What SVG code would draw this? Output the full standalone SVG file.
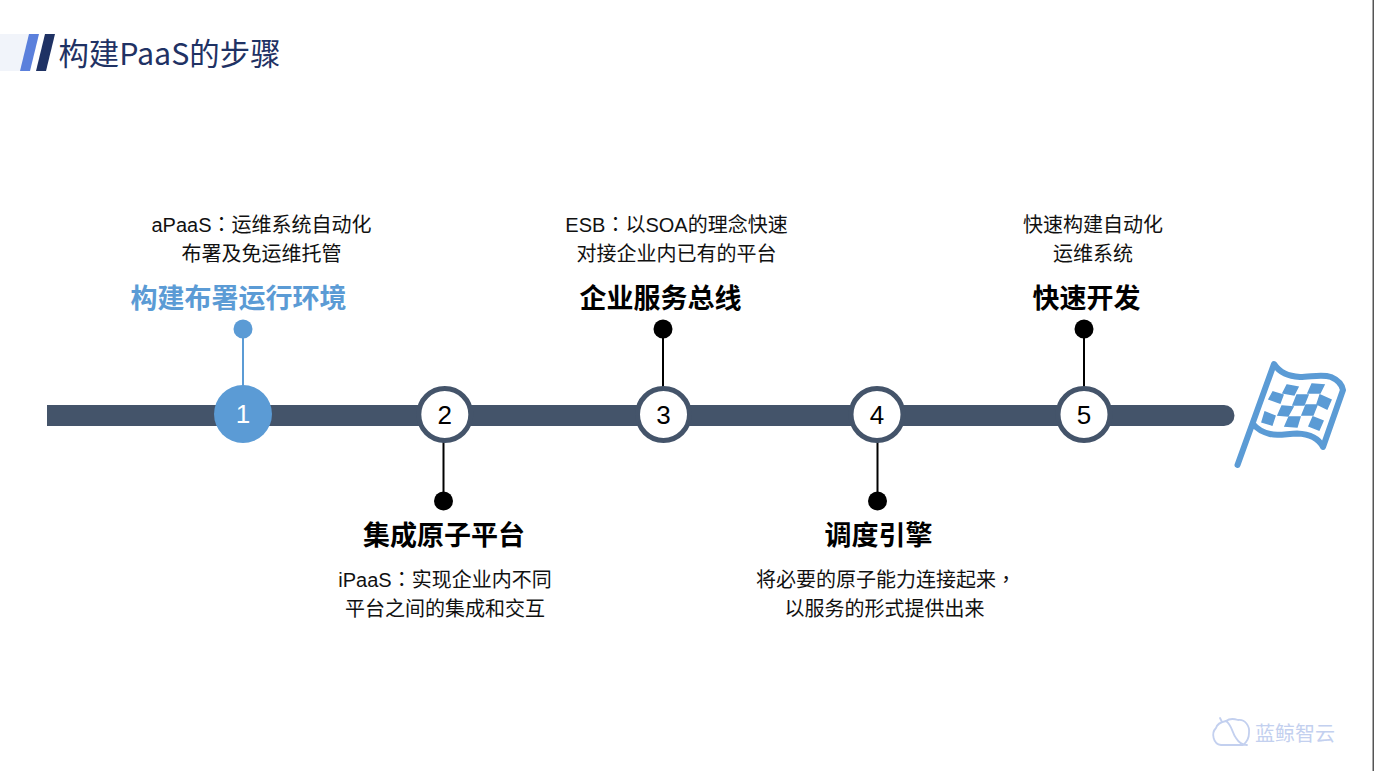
<svg xmlns="http://www.w3.org/2000/svg" width="1374" height="771" viewBox="0 0 1374 771">
<style>
text{font-family:"Liberation Sans","Noto Sans CJK SC",sans-serif;text-anchor:middle}
.d{font-size:20px;fill:#111}
.h{font-size:27px;font-weight:700;fill:#000}
.n{font-size:26px;fill:#000}
.p{font-family:"Noto Sans CJK TC",sans-serif}
.ring{fill:#fff;stroke:#44546a;stroke-width:5}
.st{stroke:#000;stroke-width:2;fill:none}
</style>
<rect width="1374" height="771" fill="#fff"/>
<rect x="1372.500" y="0" width="1.500" height="771" fill="#555"/>
<g id="header">
<rect x="0" y="34" width="29" height="37" fill="#f1f4fa"/>
<polygon points="29,34 39,34 30,71 20,71" fill="#5b80dc"/>
<polygon points="45,34 55,34 46,71 36,71" fill="#1f3264"/>
<text x="169.500" y="65" style="font-size:30.400px;font-family:'Noto Sans CJK SC','Noto Sans',sans-serif;fill:#1f3264">构建PaaS的步骤</text>
</g>
<g id="connectors">
<line x1="243" y1="329" x2="243" y2="390" stroke="#5b9bd5" stroke-width="2"/>
<line class="st" x1="443.500" y1="440" x2="443.500" y2="501"/>
<line class="st" x1="663" y1="329" x2="663" y2="390"/>
<line class="st" x1="877.500" y1="440" x2="877.500" y2="501"/>
<line class="st" x1="1084" y1="329" x2="1084" y2="390"/>
</g>
<g id="timeline">
<path d="M47 405H1224a10.500 10.500 0 0 1 0 21H47Z" fill="#44546a"/>
</g>
<g id="node1">
<text class="d" x="261.500" y="232">aPaaS<tspan class="p">：</tspan>运维系统自动化</text>
<text class="d" x="261.500" y="261">布署及免运维托管</text>
<text class="h" x="238.500" y="308" style="fill:#5b9bd5">构建布署运行环境</text>
<circle cx="243" cy="329" r="9.500" fill="#5b9bd5"/>
<circle cx="243" cy="414" r="29" fill="#5b9bd5"/>
<text class="n" x="243" y="423" style="fill:#fff">1</text>
</g>
<g id="node2">
<circle class="ring" cx="444.800" cy="414.500" r="26"/>
<text class="n" x="444.800" y="424">2</text>
<circle cx="443.500" cy="501" r="9.500"/>
<text class="h" x="444" y="545">集成原子平台</text>
<text class="d" x="445" y="587">iPaaS<tspan class="p">：</tspan>实现企业内不同</text>
<text class="d" x="445" y="616">平台之间的集成和交互</text>
</g>
<g id="node3">
<text class="d" x="676.500" y="232">ESB<tspan class="p">：</tspan>以SOA的理念快速</text>
<text class="d" x="676.500" y="261">对接企业内已有的平台</text>
<text class="h" x="660.500" y="308">企业服务总线</text>
<circle cx="663" cy="329" r="9.500"/>
<circle class="ring" cx="663.500" cy="414.500" r="26"/>
<text class="n" x="663.500" y="424">3</text>
</g>
<g id="node4">
<circle class="ring" cx="877" cy="414.500" r="26"/>
<text class="n" x="877" y="424">4</text>
<circle cx="877.500" cy="501" r="9.500"/>
<text class="h" x="878.500" y="545">调度引擎</text>
<text class="d" x="886" y="587">将必要的原子能力连接起来<tspan class="p">，</tspan></text>
<text class="d" x="884.500" y="616">以服务的形式提供出来</text>
</g>
<g id="node5">
<text class="d" x="1093" y="232">快速构建自动化</text>
<text class="d" x="1093" y="261">运维系统</text>
<text class="h" x="1086.500" y="308">快速开发</text>
<circle cx="1084" cy="329" r="9.500"/>
<circle class="ring" cx="1084" cy="414.500" r="26"/>
<text class="n" x="1084" y="424">5</text>
</g>
<g id="flag" fill="none" stroke="#5b9bd5" stroke-linecap="round" stroke-linejoin="round">
<path d="M1237.500 465L1274 364C1280 373 1288 376 1300 377C1311 377 1322 374 1331 377C1338 380 1342 385 1343 390L1323 447C1319 439 1310 434 1297 433.500C1288 433.500 1278 436 1270 434C1262 432 1257 429 1253 424" stroke-width="6"/>
<g fill="#5b9bd5" stroke="#5b9bd5" stroke-width="1.500" stroke-linejoin="miter">
<path d="M1287 385L1298 387L1294 395L1283 393Z"/>
<path d="M1312 384L1324 385L1320 393L1308 393Z"/>
<path d="M1273 392L1283 395L1280 403L1269 399Z"/>
<path d="M1297 395L1308 395L1304 405L1293 405Z"/>
<path d="M1320 395L1331 400L1327 409L1317 404Z"/>
<path d="M1282 406L1293 407L1288 416L1278 415Z"/>
<path d="M1306 405L1317 405L1313 415L1302 415Z"/>
<path d="M1265 412L1275 416L1272 425L1262 422Z"/>
<path d="M1289 417L1300 417L1297 427L1285 426Z"/>
<path d="M1313 417L1323 421L1319 430L1309 426Z"/>
</g>
</g>
<g id="logo">
<path d="M1243 745H1221C1213 744 1211 733 1216 728C1217 724 1221 722 1226 721C1230 718 1235 719 1238 720C1245 719 1250 726 1249 733C1249 738 1247 742 1243 745M1226 721C1232 725 1232 733 1236 738C1239 743 1243 745 1247 745M1222 722L1220 718" fill="none" stroke="#c3d0ef" stroke-width="1.800" stroke-linecap="round"/>
<text x="1295" y="741" style="font-size:20px;fill:#c3d0ef">蓝鲸智云</text>
</g>
</svg>
